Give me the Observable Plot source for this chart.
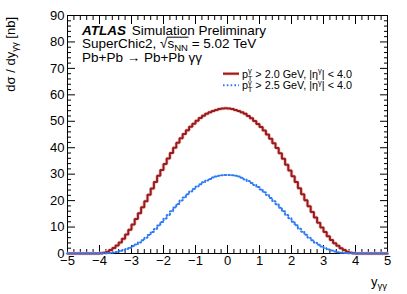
<!DOCTYPE html>
<html><head><meta charset="utf-8">
<script src="https://cdn.jsdelivr.net/npm/d3@7"></script>
<script src="https://cdn.jsdelivr.net/npm/@observablehq/plot@0.6"></script>
<style>body{margin:0;background:#fff;} svg{display:block}</style>
</head><body><div id="chart"></div>
<script>
// 100 bins of width 0.1 from -5 to 5 (lower edges)
const binLowEdges = d3.range(100).map(i => +(-5 + i * 0.1).toFixed(2));
const binUpperEdge = 5;

// dσ/dy_γγ [nb], pT > 2.0 GeV
const sigmaPt20 = [
  0,0,0,0,0,0,0,0,0,0,
  0.1,0.3,0.7,1.3,2.1,3.0,4.2,5.6,7.2,9.0,
  11.0,13.0,15.2,17.5,19.8,22.2,24.6,27.0,29.4,31.6,
  33.8,35.9,38.0,40.0,41.9,43.6,45.2,46.6,47.9,49.1,
  50.2,51.2,52.1,52.8,53.4,53.9,54.3,54.6,54.8,54.9,
  54.8,54.6,54.3,53.9,53.4,52.8,52.0,51.1,50.1,49.0,
  47.8,46.5,45.0,43.4,41.7,39.9,37.9,35.8,33.6,31.4,
  29.2,27.0,24.7,22.4,20.1,17.9,15.7,13.6,11.6,9.8,
  8.1,6.5,5.1,3.9,2.9,2.0,1.3,0.7,0.3,0.1,
  0,0,0,0,0,0,0,0,0,0
];
// dσ/dy_γγ [nb], pT > 2.5 GeV
const sigmaPt25 = [
  0,0,0,0,0,0,0,0,0,0,
  0.0,0.05,0.1,0.2,0.4,0.6,0.9,1.3,1.7,2.2,
  2.8,3.4,4.2,5.0,6.0,7.0,8.1,9.3,10.6,11.9,
  13.2,14.6,16.0,17.4,18.7,20.0,21.2,22.4,23.4,24.4,
  25.3,26.2,26.9,27.6,28.2,28.7,29.1,29.4,29.6,29.7,
  29.7,29.6,29.4,29.1,28.6,28.0,27.4,26.7,25.9,25.1,
  24.2,23.2,22.1,21.0,19.8,18.6,17.3,16.0,14.6,13.3,
  12.0,10.7,9.4,8.2,7.1,6.0,5.0,4.1,3.3,2.6,
  2.0,1.5,1.1,0.8,0.5,0.3,0.2,0.1,0.05,0.0,
  0,0,0,0,0,0,0,0,0,0
];

const xTicks = [-5,-4,-3,-2,-1,0,1,2,3,4,5];
const yTicks = [0,10,20,30,40,50,60,70,80,90];
const xMinorTicks = d3.range(-50, 51, 2).filter(d => d % 10 !== 0).map(d => d / 10);
const yMinorTicks = d3.range(0, 91, 2).filter(d => d % 10 !== 0);

const legendLabels = [
  {pt: "2.0", eta: "4.0"},
  {pt: "2.5", eta: "4.0"}
];

const RED = "#9c1a1a", RED_HALO = "#ecc4c4", BLUE = "#2f7bf5";
const FONT = '"Liberation Sans", Arial, Helvetica, sans-serif';

function histPoints(vals) {
  const pts = binLowEdges.map((x, i) => ({x, y: vals[i]}));
  pts.push({x: binUpperEdge, y: vals[vals.length - 1]});
  return pts;
}
const fmt = d => d < 0 ? "\u2212" + Math.abs(d) : String(d);

const plot = Plot.plot({
  width: 407, height: 294,
  marginLeft: 67, marginRight: 20, marginTop: 15, marginBottom: 41,
  x: {domain: [-5, 5]},
  y: {domain: [0, 90]},
  style: {fontFamily: FONT, fontSize: "13px", background: "white", color: "black", overflow: "visible"},
  marks: [
    Plot.axisX(xTicks, {anchor: "bottom", tickSize: 0, tickPadding: 2, label: null, tickFormat: fmt, fontSize: 13}),
    Plot.axisY(yTicks, {anchor: "left", tickSize: 0, tickPadding: 3, label: null, fontSize: 13}),
    Plot.axisX(xTicks, {anchor: "bottom", tickSize: -8, fill: "none"}),
    Plot.axisX(xMinorTicks, {anchor: "bottom", tickSize: -4, fill: "none"}),
    Plot.axisX(xTicks, {anchor: "top", tickSize: -8, fill: "none"}),
    Plot.axisX(xMinorTicks, {anchor: "top", tickSize: -4, fill: "none"}),
    Plot.axisY(yTicks, {anchor: "left", tickSize: -8, fill: "none"}),
    Plot.axisY(yMinorTicks, {anchor: "left", tickSize: -4, fill: "none"}),
    Plot.axisY(yTicks, {anchor: "right", tickSize: -8, fill: "none"}),
    Plot.axisY(yMinorTicks, {anchor: "right", tickSize: -4, fill: "none"}),
    Plot.frame({stroke: "black"}),
    Plot.line(histPoints(sigmaPt20), {x: "x", y: "y", curve: "step-after", stroke: RED_HALO, strokeWidth: 3.5, strokeLinejoin: "miter"}),
    Plot.line(histPoints(sigmaPt20), {x: "x", y: "y", curve: "step-after", stroke: RED, strokeWidth: 2, strokeLinejoin: "miter"}),
    Plot.line(histPoints(sigmaPt25), {x: "x", y: "y", curve: "step-after", stroke: BLUE, strokeWidth: 2, strokeDasharray: "1.6,2.2", strokeLinejoin: "miter"})
  ]
});
document.getElementById("chart").appendChild(plot);

const svg = d3.select(plot);
const g = svg.append("g").attr("font-family", FONT).attr("fill", "black").attr("text-anchor", "start");

// ATLAS label
const t1 = g.append("text").attr("x", 82).attr("y", 34.5).attr("font-size", 13.5);
t1.append("tspan").attr("font-weight", "bold").attr("font-style", "italic").text("ATLAS");
t1.append("tspan").attr("dx", 2).text(" Simulation Preliminary");

const t2 = g.append("text").attr("x", 82).attr("y", 48).attr("font-size", 13.5);
t2.append("tspan").text("SuperChic2, \u221A");
t2.append("tspan").text("s");
t2.append("tspan").attr("font-size", 9.5).attr("dy", 3).text("NN");
t2.append("tspan").attr("dy", -3).text(" = 5.02 TeV");
// radical overline
try {
  const node = t2.node();
  const full = node.textContent;
  const iR = full.indexOf("\u221A");
  const r = node.getExtentOfChar(iR);
  const e = node.getExtentOfChar(iR + 3);
  g.append("line").attr("x1", r.x + r.width - 0.5).attr("x2", e.x + e.width + 0.5)
    .attr("y1", r.y + 1.2).attr("y2", r.y + 1.2).attr("stroke", "black").attr("stroke-width", 1);
} catch (err) {}

g.append("text").attr("x", 82).attr("y", 61.5).attr("font-size", 13.5).text("Pb+Pb \u2192 Pb+Pb \u03B3\u03B3");

// Legend
const legendY = [73.7, 85.2];
legendLabels.forEach((d, i) => {
  const y = legendY[i];
  if (i === 0) {
    g.append("line").attr("x1", 223).attr("x2", 239).attr("y1", y).attr("y2", y).attr("stroke", RED_HALO).attr("stroke-width", 3.5);
    g.append("line").attr("x1", 223).attr("x2", 239).attr("y1", y).attr("y2", y).attr("stroke", RED).attr("stroke-width", 2);
  } else {
    g.append("line").attr("x1", 223).attr("x2", 239).attr("y1", y).attr("y2", y).attr("stroke", BLUE).attr("stroke-width", 2).attr("stroke-dasharray", "1.6,2.2");
  }
  const t = g.append("text").attr("x", 242).attr("y", y + 3.8).attr("font-size", 10.8);
  t.append("tspan").text("p");
  t.append("tspan").attr("font-size", 7.5).attr("dy", -4.5).text("\u03B3");
  t.append("tspan").attr("font-size", 7.5).attr("dx", -4).attr("dy", 7.5).text("T");
  t.append("tspan").attr("dy", -3).text(` > ${d.pt} GeV, |\u03B7`);
  t.append("tspan").attr("font-size", 7.5).attr("dy", -4.5).text("\u03B3");
  t.append("tspan").attr("dy", 4.5).text(`| < ${d.eta}`);
});

// Axis titles
const yt = g.append("text").attr("transform", "translate(15,17) rotate(-90)").attr("text-anchor", "end").attr("font-size", 13);
yt.append("tspan").text("d\u03C3 / dy");
yt.append("tspan").attr("font-size", 9.5).attr("dy", 3).text("\u03B3\u03B3");
yt.append("tspan").attr("dy", -3).text(" [nb]");

const xt = g.append("text").attr("x", 387).attr("y", 286).attr("text-anchor", "end").attr("font-size", 13);
xt.append("tspan").text("y");
xt.append("tspan").attr("font-size", 9.5).attr("dy", 3).text("\u03B3\u03B3");
</script>
</body></html>
